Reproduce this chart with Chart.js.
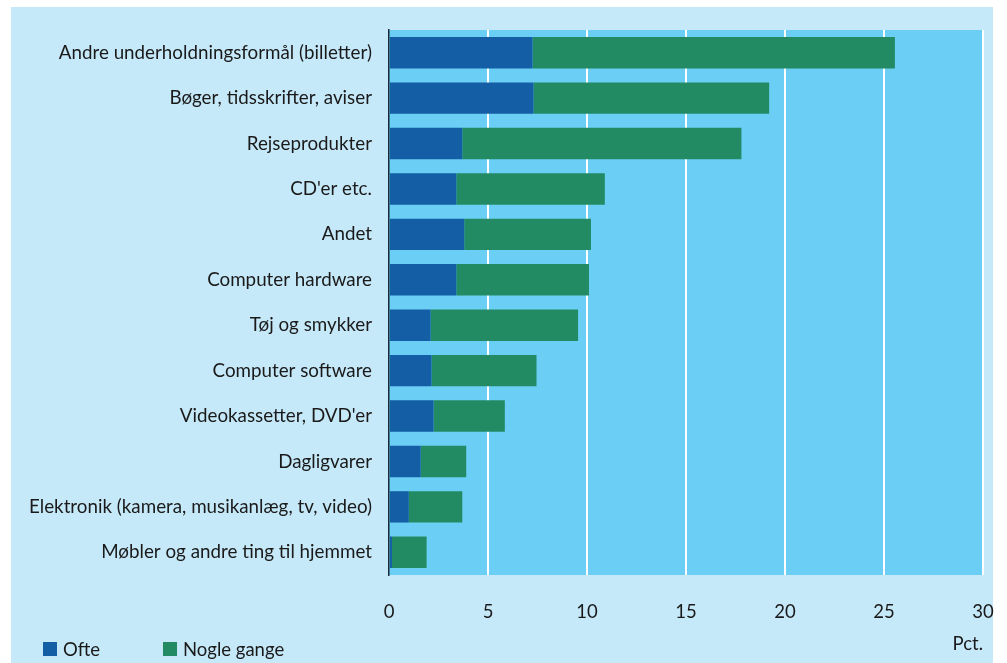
<!DOCTYPE html>
<html>
<head>
<meta charset="utf-8">
<script src="https://cdn.jsdelivr.net/npm/chart.js@4"></script>
<style>
  html, body { margin: 0; padding: 0; background: #ffffff; }
  #wrap { position: relative; width: 1007px; height: 663px; }
  canvas { position: absolute; left: 0; top: 0; }
  .leg { position: absolute; top: 638px; font-family: Lato, sans-serif; font-size: 18.5px; color: #1a1a1a; display: flex; align-items: center; }
  .sw { width: 14px; height: 14px; display: inline-block; margin-right: 6px; }
</style>
</head>
<body>
<div id="wrap">
  <canvas id="c" width="1007" height="663"></canvas>
  <div class="leg" style="left:43px"><span class="sw" style="background:#135ea5"></span>Ofte</div>
  <div class="leg" style="left:163px"><span class="sw" style="background:#228b63"></span>Nogle gange</div>
</div>
<script>
const categories = [
  "Andre underholdningsformål (billetter)",
  "Bøger, tidsskrifter, aviser",
  "Rejseprodukter",
  "CD'er etc.",
  "Andet",
  "Computer hardware",
  "Tøj og smykker",
  "Computer software",
  "Videokassetter, DVD'er",
  "Dagligvarer",
  "Elektronik (kamera, musikanlæg, tv, video)",
  "Møbler og andre ting til hjemmet"
];
const ofte = [7.25, 7.3, 3.7, 3.4, 3.8, 3.4, 2.1, 2.15, 2.25, 1.6, 1.0, 0.15];
const nogleGange = [18.3, 11.9, 14.1, 7.5, 6.4, 6.7, 7.45, 5.3, 3.6, 2.3, 2.7, 1.75];
const xTicks = [0, 5, 10, 15, 20, 25, 30];
const seriesNames = ["Ofte", "Nogle gange"];

const bgPlugin = {
  id: 'bg',
  beforeDraw(chart) {
    const ctx = chart.ctx;
    const a = chart.chartArea;
    ctx.save();
    ctx.fillStyle = '#ffffff';
    ctx.fillRect(0, 0, chart.width, chart.height);
    ctx.fillStyle = '#c6e9f9';
    ctx.fillRect(11, 7, 982, chart.height - 7);
    ctx.fillStyle = '#6bcff5';
    ctx.fillRect(a.left, a.top, a.right - a.left + 1, a.bottom - a.top);
    ctx.restore();
  }
};

const fontFamily = 'Lato, sans-serif';

new Chart(document.getElementById('c'), {
  type: 'bar',
  data: {
    labels: categories,
    datasets: [
      { label: seriesNames[0], data: ofte, backgroundColor: '#135ea5', borderWidth: 0 },
      { label: seriesNames[1], data: nogleGange, backgroundColor: '#228b63', borderWidth: 0 }
    ]
  },
  options: {
    indexAxis: 'y',
    responsive: false,
    animation: false,
    devicePixelRatio: 1,
    layout: { padding: { top: 30, right: 24, left: 0, bottom: 0 } },
    datasets: { bar: { categoryPercentage: 1, barPercentage: 0.69 } },
    plugins: {
      legend: { display: false },
      tooltip: { enabled: false }
    },
    scales: {
      x: {
        stacked: true,
        min: 0, max: 30,
        afterBuildTicks(scale) { scale.ticks = xTicks.map(v => ({ value: v })); },
        afterFit(scale) { scale.height = 88; scale.paddingRight = 0; scale.paddingLeft = 0; },
        grid: {
          drawTicks: false,
          lineWidth: 2,
          color: ctx => (ctx.tick && ctx.tick.value === 0) ? 'rgba(0,0,0,0)' : '#ffffff'
        },
        border: { display: false },
        ticks: { padding: 26, color: '#1a1a1a', font: { family: fontFamily, size: 18.5 }, maxRotation: 0 },
        title: { display: true, text: 'Pct.', align: 'end', color: '#1a1a1a', font: { family: fontFamily, size: 18.5 }, padding: { top: 0, bottom: 8 } }
      },
      y: {
        stacked: true,
        afterFit(scale) { scale.width = 389; scale.paddingTop = 0; scale.paddingBottom = 0; },
        grid: { display: false, drawTicks: false },
        border: { display: true, color: '#1a2a3a', width: 1.5 },
        ticks: { padding: 17, color: '#1a1a1a', font: { family: fontFamily, size: 18.8 } }
      }
    }
  },
  plugins: [bgPlugin]
});
</script>
</body>
</html>
